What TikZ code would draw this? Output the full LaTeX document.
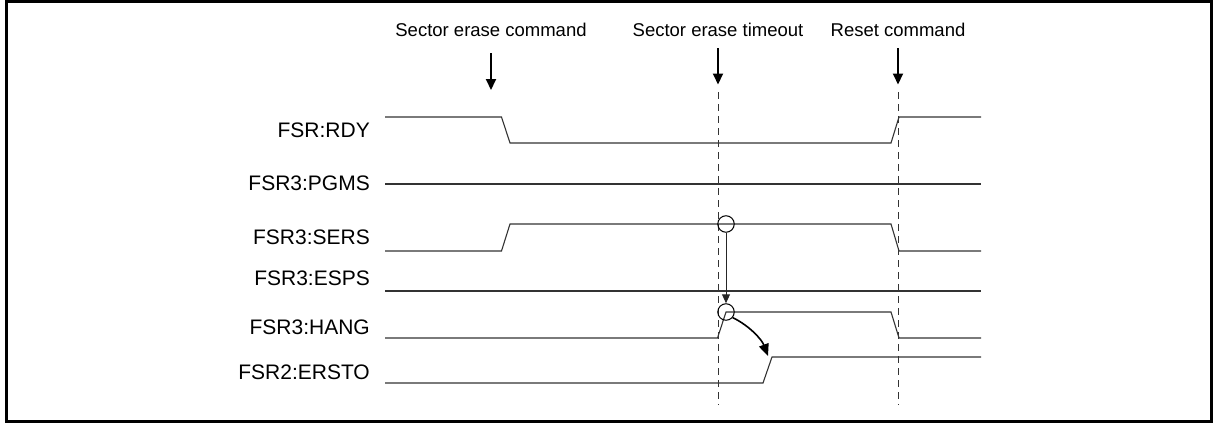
\documentclass[tikz,border=0pt]{standalone}
\usepackage{fontspec}
\setmainfont{Liberation Sans}
\usetikzlibrary{arrows.meta}
\begin{document}
\begin{tikzpicture}[x=1pt,y=-1pt,
  sig/.style={line width=1.1pt, black!80, line join=miter},
  lbl/.style={anchor=base east, inner sep=0pt, font=\fontsize{21}{25}\selectfont},
  evt/.style={anchor=base, inner sep=0pt, font=\fontsize{18.5}{22}\selectfont},
  evarrow/.style={line width=2pt, -{Triangle[length=11pt,width=10pt]}},
  guide/.style={line width=1pt, black!80, dash pattern=on 7pt off 5pt},
  ring/.style={circle, draw, line width=1pt, minimum size=16.5pt, inner sep=0pt}
]
\useasboundingbox (0,0) rectangle (1213,423);
\draw[line width=3pt] (6,1.5) rectangle (1211.5,421.5);

% signal labels
\node[lbl] (lRDY)   at (370,137.5) {FSR:RDY};
\node[lbl] (lPGMS)  at (370,190.5) {FSR3:PGMS};
\node[lbl] (lSERS)  at (370,244.5) {FSR3:SERS};
\node[lbl] (lESPS)  at (370,285.5) {FSR3:ESPS};
\node[lbl] (lHANG)  at (370,334.5) {FSR3:HANG};
\node[lbl] (lERSTO) at (370,379.5) {FSR2:ERSTO};

% event labels
\node[evt] (eCmd)   at (491,36) {Sector erase command};
\node[evt] (eTo)    at (718,36) {Sector erase timeout};
\node[evt] (eRst)   at (898,36) {Reset command};

% event arrows
\coordinate (aCmdS) at (491,53);
\coordinate (aCmdE) at (491,90);
\coordinate (aToS)  at (718,48);
\coordinate (aToE)  at (718,84.5);
\coordinate (aRstS) at (898,48);
\coordinate (aRstE) at (898,84.5);
\draw[evarrow] (aCmdS) -- (aCmdE);
\draw[evarrow] (aToS) -- (aToE);
\draw[evarrow] (aRstS) -- (aRstE);

% dashed guides
\coordinate (gToS)  at (718,92);
\coordinate (gToE)  at (718,405);
\coordinate (gRstS) at (898,92);
\coordinate (gRstE) at (898,405);
\draw[guide] (gToS) -- (gToE);
\draw[guide] (gRstS) -- (gRstE);

% waveforms
\draw[sig] (385,117) -- (501.5,117) -- (510,143) -- (891,143) -- (899,117) -- (981,117);
\draw[sig] (385,184) -- (981,184);
\draw[sig] (385,251) -- (501.5,251) -- (510,224) -- (891,224) -- (899,251) -- (981,251);
\draw[sig] (385,291) -- (981,291);
\draw[sig] (385,338) -- (717.5,338) -- (726,312) -- (891,312) -- (899,338) -- (981,338);
\draw[sig] (385,383) -- (763,383) -- (772,357) -- (981,357);

% causality marks
\node[ring] (c1) at (726,224) {};
\node[ring] (c2) at (726,312) {};
\draw[line width=1pt, black!85, -{Triangle[length=9pt,width=8pt]}] (c1.south) -- (c2.north);
\coordinate (c3) at (768,356);
\draw[line width=1.6pt, -{Triangle[length=12pt,width=10pt]}] (c2.-40) .. controls (750,326) and (762,340) .. (c3);
\end{tikzpicture}
\end{document}
